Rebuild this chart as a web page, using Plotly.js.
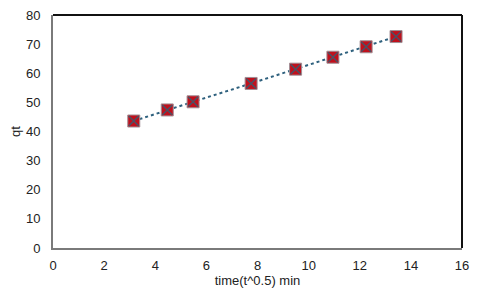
<!DOCTYPE html>
<html>
<head>
<meta charset="utf-8">
<script src="https://cdn.plot.ly/plotly-3.0.1.min.js"></script>
<style>
  html, body { margin:0; padding:0; background:#fff; }
  #chart { width:480px; height:297px; }
</style>
</head>
<body>
<div id="chart"></div>
<script>
// sqrt(t) vs qt, intraparticle diffusion style plot
const tSqrt = [3.16, 4.47, 5.48, 7.75, 9.49, 10.95, 12.25, 13.42];
const qt    = [43.6, 47.4, 50.2, 56.5, 61.4, 65.5, 69.1, 72.6];
const xTicks = [0, 2, 4, 6, 8, 10, 12, 14, 16];
const yTicks = [0, 10, 20, 30, 40, 50, 60, 70, 80];

const traces = [
  { type:'scatter', mode:'lines', x:tSqrt, y:qt, showlegend:false, hoverinfo:'skip',
    line:{color:'#2f617e', width:2, dash:'dot'} },
  { type:'scatter', mode:'markers', x:tSqrt, y:qt, showlegend:false,
    marker:{symbol:'square', size:12, color:'#c0101c', line:{color:'#a08f95', width:1}} },
  { type:'scatter', mode:'markers', x:tSqrt, y:qt, showlegend:false, hoverinfo:'skip',
    marker:{symbol:'x-thin-open', size:10, color:'#4a5265', line:{color:'#4a5265', width:1.5}} }
];

const tickFont = {family:'"Liberation Sans", Arial, sans-serif', size:13, color:'#222'};

const layout = {
  width:480, height:297,
  paper_bgcolor:'#fff', plot_bgcolor:'#fff',
  margin:{l:53, r:18, t:15, b:49},
  xaxis:{ range:[0,16], tickvals:xTicks, ticktext:xTicks.map(String), showgrid:false, zeroline:false,
    showline:true, linecolor:'#7a7a7a', linewidth:2, ticks:'', tickfont:tickFont, ticklabelstandoff:4,
    title:{text:'time(t^0.5) min', font:tickFont, standoff:0} },
  yaxis:{ range:[0,80], tickvals:yTicks, ticktext:yTicks.map(String), showgrid:false, zeroline:false,
    showline:true, linecolor:'#7a7a7a', linewidth:2, ticks:'', tickfont:tickFont, ticklabelstandoff:8,
    title:{text:'qt', font:tickFont, standoff:2} },
  shapes:[
    {type:'line', xref:'paper', yref:'paper', x0:0, x1:1, y0:1, y1:1, line:{color:'#111', width:2}},
    {type:'line', xref:'paper', yref:'paper', x0:1, x1:1, y0:0, y1:1, line:{color:'#111', width:2}}
  ]
};

Plotly.newPlot('chart', traces, layout, {displayModeBar:false, staticPlot:true});
</script>
</body>
</html>
